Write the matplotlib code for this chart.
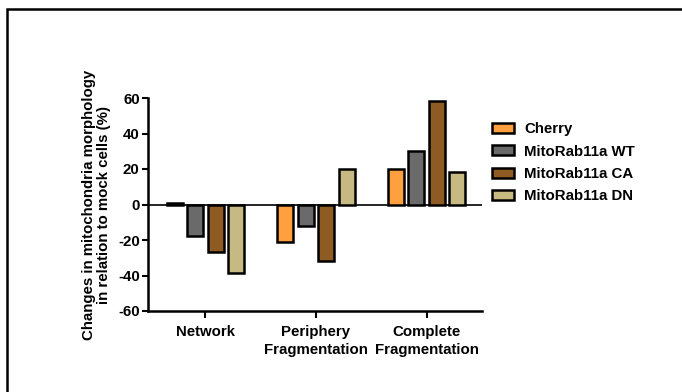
import matplotlib
matplotlib.use("Agg")
import matplotlib.pyplot as plt
import numpy as np
from matplotlib.patches import Patch, Rectangle

plt.rcParams['font.family'] = ['Liberation Sans', 'DejaVu Sans']
plt.rcParams['font.weight'] = 'bold'
plt.rcParams['axes.unicode_minus'] = False

categories = ["Network", "Periphery\nFragmentation", "Complete\nFragmentation"]
series_names = ["Cherry", "MitoRab11a WT", "MitoRab11a CA", "MitoRab11a DN"]
cherry = [1, -21, 20]
rab_wt = [-18, -12, 30]
rab_ca = [-26.5, -32, 58.5]
rab_dn = [-38.5, 20, 18.5]
colors = ["#FFA040", "#6A6A6A", "#8E5B22", "#C6BA82"]

fig = plt.figure(figsize=(6.82, 3.92), dpi=100)
ax = fig.add_axes([148 / 682, 1 - 311 / 392, 334 / 682, 213 / 392])

x = np.arange(len(categories))
pitch = 0.185
width = 0.145
for i, (vals, col) in enumerate(zip([cherry, rab_wt, rab_ca, rab_dn], colors)):
    ax.bar(x + (i - 1.5) * pitch, vals, width, color=col,
           edgecolor="black", linewidth=1.8, zorder=3)

ax.axhline(0, color="black", linewidth=1.2, zorder=2)

ax.set_xlim(-0.518, 2.5)
ax.set_ylim(-60, 60)
ax.set_yticks(range(-60, 61, 20))
ax.set_xticks(x)
ax.set_xticklabels(categories, fontsize=10.8, fontweight="bold", linespacing=1.35)
ax.tick_params(axis="y", labelsize=10.8, width=1.5, length=4, pad=2)
ax.tick_params(axis="x", width=1.5, length=5, pad=5)
for lab in ax.get_yticklabels():
    lab.set_fontweight("bold")

ax.spines["top"].set_visible(False)
ax.spines["right"].set_visible(False)
ax.spines["left"].set_linewidth(1.8)
ax.spines["bottom"].set_linewidth(1.8)

ax.set_ylabel("Changes in mitochondria morphology\nin relation to mock cells (%)",
              fontsize=10.8, fontweight="bold", labelpad=5, linespacing=1.1)

handles = [Patch(facecolor=c, edgecolor="black", linewidth=1.8) for c in colors]
fig.legend(handles, series_names, loc="upper left",
           bbox_to_anchor=(478 / 682, 1 - 109 / 392), frameon=False,
           handlelength=1.5, handleheight=0.65,
           labelspacing=0.55, handletextpad=0.7, prop={"weight": "bold", "size": 10.8})

# outer frame
fig.patches.append(Rectangle((7 / 682, -0.1), 1.2, 1 - 9 / 392 + 0.1,
                             transform=fig.transFigure, fill=False,
                             edgecolor="black", linewidth=1.8))

fig.savefig("out.png", dpi=100)
